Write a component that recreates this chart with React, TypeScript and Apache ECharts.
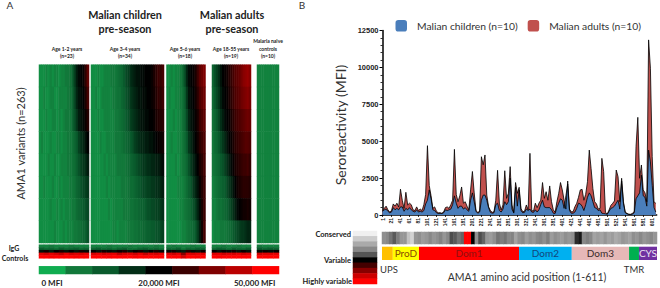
import React, { useEffect, useRef } from "react";
import * as echarts from "echarts";

// ---- Panel A: heatmap values, thousands of MFI (top row first, one column per subject)
const heatAge1to2 = [
  [3,3,3,4,3,4,3,4,4,3,4,4,5,5,6,9,13,17,19,20,21,25,31],
  [3,3,4,3,3,4,4,3,3,4,4,4,4,5,6,8,12,16,18,19,20,23,28],
  [3,3,3,4,3,3,4,4,3,4,3,4,5,5,5,8,11,14,17,18,19,21,24],
  [3,4,3,3,3,4,3,3,4,4,3,4,4,5,5,6,8,10,13,15,16,18,20],
  [3,3,3,3,4,3,3,4,3,3,4,4,4,5,5,6,7,9,11,13,14,15,17],
  [3,3,4,3,3,3,4,3,3,4,3,4,4,4,5,5,6,8,9,11,12,13,14],
  [3,3,3,3,3,4,3,3,4,3,4,3,4,4,4,5,5,7,8,9,10,11,12],
  [3,3,3,3,3,3,3,4,3,3,3,4,3,4,4,4,5,5,6,7,8,9,11],
];
const heatAge3to4 = [
  [3,3,3,4,3,3,4,4,4,5,5,5,6,7,8,10,12,13,15,16,17,18,18,19,19,20,20,20,21,23,25,27,26,28],
  [3,3,4,3,3,4,4,4,4,4,5,5,6,6,8,9,11,12,14,15,16,17,18,18,19,19,20,20,21,22,24,26,25,27],
  [3,3,3,4,3,3,4,4,4,4,4,5,5,6,7,8,10,11,13,14,15,16,17,18,18,19,19,20,20,21,23,24,24,25],
  [3,3,3,3,4,3,3,4,4,4,4,5,5,5,6,7,8,9,10,11,13,14,15,16,16,17,17,18,18,19,20,21,21,22],
  [3,3,3,3,3,3,4,3,4,4,4,4,5,5,5,5,6,7,8,9,10,11,12,13,14,14,15,15,16,16,17,17,18,19],
  [3,3,3,3,3,3,3,4,3,4,4,4,4,4,5,5,5,6,7,7,8,9,10,11,12,12,13,13,14,14,15,15,16,17],
  [3,3,3,3,3,3,3,3,4,3,4,4,4,4,4,5,5,5,6,6,7,7,8,9,9,10,11,11,12,12,13,13,14,15],
  [3,3,3,3,3,3,3,3,3,3,4,4,3,4,4,4,4,5,5,5,6,6,7,7,8,8,9,9,10,10,11,11,12,13],
];
const heatAge5to6 = [
  [3,3,4,3,4,4,5,7,11,16,19,20,21,23,27,31,33,35],
  [3,4,3,3,4,4,5,6,9,14,18,19,20,22,25,29,31,33],
  [3,3,3,4,3,4,4,6,8,12,16,18,19,21,23,27,29,31],
  [3,3,4,3,3,4,4,5,7,10,14,16,18,20,22,25,27,29],
  [3,3,3,3,4,3,4,5,6,8,11,14,16,18,20,23,25,28],
  [3,3,3,3,3,4,4,4,5,7,9,11,14,16,18,21,24,27],
  [3,3,3,3,3,3,4,4,5,6,7,9,11,13,16,19,23,27],
  [3,3,3,3,3,3,3,4,4,5,6,7,8,10,13,17,22,28],
];
const heatAdults = [
  [8,11,13,15,18,20,21,22,24,26,28,30,31,32,34,36,37,38,36],
  [7,10,12,14,17,19,20,21,23,25,27,29,30,31,33,34,35,36,34],
  [6,8,10,12,15,17,19,20,21,23,25,27,28,29,30,31,32,33,32],
  [5,7,8,10,12,14,16,18,20,21,23,25,26,27,28,29,30,30,29],
  [5,6,7,8,10,11,13,15,17,19,21,23,24,25,26,27,27,28,26],
  [4,5,6,7,8,9,10,12,14,16,18,20,22,23,24,25,25,25,24],
  [4,4,5,6,6,7,8,9,11,13,15,17,19,20,21,22,22,23,22],
  [3,4,4,4,5,5,5,6,7,8,10,11,12,13,14,14,15,16,16],
];
const heatNaive = [
  [4,4,4,4,4,4,4,4,4,4],
  [4,4,4,4,4,4,4,4,4,4],
  [4,4,4,4,4,4,4,4,4,4],
  [4,4,4,4,4,4,4,4,4,4],
  [4,4,4,4,4,4,4,4,4,4],
  [4,4,4,4,4,4,4,4,4,4],
  [4,4,4,4,4,4,4,4,4,4],
  [4,4,4,4,4,4,4,4,4,4],
];
const iggAge1to2 = [
  [4,4,5,4,4,4,5,4,4,4],
  [9,7,8,6,9,7,8,9,7,8],
  [18,22,17,20,23,18,20,18,22,19],
  [46,44,47,45,42,47,44,46,45,47],
  [50,50,49,50,50,50,50,49,50,50],
];
const iggAge3to4 = [
  [4,4,4,5,4,4,4,5,4,4,4,4,5,4],
  [8,9,7,8,6,8,9,7,6,8,9,7,8,6],
  [20,18,22,19,18,21,23,18,20,22,18,20,23,19],
  [45,47,44,46,47,42,45,46,44,47,43,46,45,47],
  [50,50,50,49,50,50,50,50,49,50,50,50,50,50],
];
const iggAge5to6 = [
  [4,5,4,4,4,5,4,4],
  [8,7,9,5,8,7,9,8],
  [19,22,18,17,24,19,18,21],
  [46,44,47,36,46,45,47,46],
  [50,50,50,45,50,50,49,50],
];
const iggAdults = [
  [4,4,5,4,4,5,4,4],
  [7,9,8,6,9,8,7,9],
  [20,18,21,19,22,18,21,18],
  [46,47,44,46,45,47,44,46],
  [50,49,50,50,50,50,50,50],
];
const iggNaive = [
  [5,4,4,4],
  [10,8,9,8],
  [19,21,19,20],
  [44,46,46,47],
  [50,50,50,50],
];
const colorScaleSwatches = [0, 5, 10, 15, 20, 27, 35, 42, 50];
const heatColorStops = ["#10ac50", "#12783a", "#095a2c", "#032e17", "#000000", "#2a0000", "#550000", "#7f0000", "#aa0000", "#d40000", "#ff0000"];

// ---- Panel B: seroreactivity in MFI, one value every 4 amino acids from position 1
const adultsMFI = [
  300,450,600,350,200,300,750,600,800,550,
  1750,1000,450,1540,680,800,700,350,300,550,
  300,400,300,700,1400,4700,2000,1300,450,550,
  250,150,150,120,200,500,550,450,700,1000,
  4450,1400,900,1300,1900,800,900,600,350,1700,
  2950,1500,300,180,250,3950,3400,4070,1350,560,
  300,180,220,1000,3030,800,340,680,3000,1130,
  1470,3280,680,180,2200,1470,1880,450,220,250,
  680,350,4180,300,270,800,500,800,1000,2200,
  1130,1580,1000,1970,900,350,180,900,1470,2200,
  1700,1000,400,2300,400,220,220,560,790,1200,
  1700,1740,1000,1400,2260,4400,3160,1800,900,750,
  400,450,3840,2940,180,70,340,650,790,950,
  3050,2600,900,2490,900,200,110,50,50,100,
  250,4630,6620,2490,3390,1700,1500,900,11870,9950,
  3950,900,790,
];
const childrenMFI = [
  250,350,400,250,150,200,500,350,450,350,
  550,550,250,450,350,500,350,250,200,350,
  200,250,200,300,750,1000,1700,1100,350,300,
  150,100,120,100,150,350,300,350,400,700,
  1300,800,450,600,600,400,500,350,250,1000,
  1500,900,250,120,200,1000,1350,1350,1000,500,
  180,120,150,700,800,300,200,400,900,700,
  900,2500,400,130,1900,600,1700,300,150,180,
  400,300,400,200,180,350,200,350,700,1000,
  550,500,500,500,350,120,100,500,800,1100,
  1000,450,1300,2100,300,120,120,200,450,800,
  750,600,300,700,1200,1500,1300,900,500,450,
  300,350,120,100,80,50,250,450,500,600,
  800,1000,400,2300,800,150,80,40,30,60,
  150,1100,1300,1500,2700,1300,1200,600,4400,3600,
  2000,500,200,
];
const aminoAcidPositions = adultsMFI.map((_, i) => 1 + i * 4);
const positionTicks = [1,21,41,61,81,101,121,141,161,181,201,221,241,261,281,301,321,341,361,381,401,421,441,461,481,501,521,541,561,581,601];

// Conservation score per block of 8 amino acids: 0 conserved, 5 variable, 9 highly variable
const conservationScores = [
  2.8,3.0,3.4,3.9,3.2,2.6,2.6,1.3,0.8,2.6,2.8,2.4,2.6,3.0,2.6,2.8,3.1,2.6,3.0,4.1,
  3.9,3.4,3.7,9,9,5,2.8,4.1,3.7,2.6,2.4,2.8,3.4,3.2,3.4,3.0,3.1,2.2,2.8,3.0,
  2.4,2.8,2.6,3.0,3.1,2.8,3.2,2.4,2.8,2.6,2.4,2.8,2.6,2.8,4.5,4.7,3.0,3.2,3.0,2.2,
  2.4,2.2,2.6,2.2,2.4,2.0,2.2,2.6,2.4,2.2,2.8,2.6,3.0,2.6,2.8,3.0,2.6,
];
const conservationLegend = [0, 1, 2, 3, 4, 5, 6, 7, 8, 9];
const conservationStops = ["#f0f0f0", "#cccccc", "#aaaaaa", "#888888", "#555555", "#000000", "#440000", "#880000", "#cc0000", "#ff0000"];

const domainNames = ["", "ProD", "Dom1", "Dom2", "Dom3", "", "CYS"];
const domainStarts = [1, 25, 83, 305, 422, 549, 571];
const domainEnds = [25, 83, 305, 422, 549, 571, 611];
const domainColors = ["#ffc000", "#ffff00", "#ff0000", "#00b0f0", "#e6b8b7", "#00b050", "#7030a0"];
const domainTextColors = ["", "#8a4a00", "#8f1010", "#12457a", "#3a2a2a", "", "#e8e0f0"];

const SERIF_FREE = "Lato, 'Open Sans', sans-serif";
const ARIAL = "'Liberation Sans', Arial, sans-serif";

function label(text: string, x: number, y: number, size: number, opts: any = {}) {
  return {
    type: "text",
    x,
    y,
    rotation: opts.rotation || 0,
    silent: true,
    style: {
      text,
      fontFamily: SERIF_FREE,
      fontSize: size,
      fontWeight: opts.bold ? "bold" : "normal",
      fill: opts.fill || "#333333",
      align: opts.align || "center",
      verticalAlign: "middle",
    },
  };
}

export default function App() {
  const ref = useRef<HTMLDivElement>(null);
  useEffect(() => {
    document.body.style.margin = "0";
    const chart = echarts.init(ref.current!, null, { renderer: "svg" });

    const grids: any[] = [];
    const xAxes: any[] = [];
    const yAxes: any[] = [];
    const series: any[] = [];
    const heatSeries: number[] = [];
    const conservationSeries: number[] = [];

    const addHeat = (matrix: number[][], left: number, top: number, width: number, height: number, bucket: number[]) => {
      const idx = grids.length;
      grids.push({ left, top, width, height });
      xAxes.push({ gridIndex: idx, type: "category", show: false, data: matrix[0].map((_, i) => i) });
      yAxes.push({ gridIndex: idx, type: "category", show: false, inverse: true, data: matrix.map((_, i) => i) });
      const data: number[][] = [];
      matrix.forEach((row, r) => row.forEach((v, c) => data.push([c, r, v])));
      bucket.push(series.length);
      series.push({
        type: "heatmap",
        xAxisIndex: idx,
        yAxisIndex: idx,
        data,
        silent: true,
        itemStyle: { borderWidth: 0 },
        progressive: 0,
      });
    };

    const heatTop = 64.7, heatHeight = 178.3, iggTop = 244.7, iggHeight = 13.6;
    addHeat(heatAge1to2, 39, heatTop, 50, heatHeight, heatSeries);
    addHeat(heatAge3to4, 91, heatTop, 73, heatHeight, heatSeries);
    addHeat(heatAge5to6, 166.5, heatTop, 39, heatHeight, heatSeries);
    addHeat(heatAdults, 212, heatTop, 39, heatHeight, heatSeries);
    addHeat(heatNaive, 257, heatTop, 22, heatHeight, heatSeries);
    addHeat(iggAge1to2, 39, iggTop, 50, iggHeight, heatSeries);
    addHeat(iggAge3to4, 91, iggTop, 73, iggHeight, heatSeries);
    addHeat(iggAge5to6, 166.5, iggTop, 39, iggHeight, heatSeries);
    addHeat(iggAdults, 212, iggTop, 39, iggHeight, heatSeries);
    addHeat(iggNaive, 257, iggTop, 22, iggHeight, heatSeries);
    addHeat([colorScaleSwatches], 39, 266.3, 240, 7.7, heatSeries);
    addHeat([conservationScores], 382, 232, 275, 12, conservationSeries);
    addHeat(conservationLegend.map((v) => [v]), 353, 231, 24, 53, conservationSeries);

    // main spectrum
    const mainIdx = grids.length;
    grids.push({ left: 382.5, top: 30.6, width: 274.2, height: 184.4 });
    xAxes.push({
      gridIndex: mainIdx,
      type: "value",
      min: 1,
      max: 611,
      splitLine: { show: false },
      axisLine: { lineStyle: { color: "#000", width: 1.5 } },
      axisTick: { customValues: positionTicks, length: 2, lineStyle: { color: "#000", width: 0.8 } },
      axisLabel: {
        customValues: positionTicks,
        rotate: 90,
        fontSize: 5,
        fontWeight: "bold",
        fontFamily: ARIAL,
        color: "#222",
        margin: 3,
      },
    });
    yAxes.push({
      gridIndex: mainIdx,
      type: "value",
      min: 0,
      max: 12500,
      interval: 2500,
      splitLine: { show: false },
      axisLine: { show: true, lineStyle: { color: "#000", width: 1.5 } },
      axisTick: { show: true, length: 3, lineStyle: { color: "#000", width: 1 } },
      minorTick: { show: true, splitNumber: 5, length: 2, lineStyle: { color: "#000", width: 0.8 } },
      axisLabel: { fontSize: 7.5, fontWeight: "bold", fontFamily: ARIAL, color: "#222", margin: 4, formatter: (v: number) => String(v) },
    });
    const areaSeries = (name: string, values: number[], color: string) => ({
      name,
      type: "line",
      xAxisIndex: mainIdx,
      yAxisIndex: mainIdx,
      data: values.map((v, i) => [aminoAcidPositions[i], v]),
      showSymbol: false,
      silent: true,
      itemStyle: { color },
      lineStyle: { color: "#000", width: 0.8 },
      areaStyle: { color, opacity: 1 },
    });
    series.push(areaSeries("Malian adults (n=10)", adultsMFI, "#c0504d"));
    series.push(areaSeries("Malian children (n=10)", childrenMFI, "#4a7ebb"));

    // domain bar
    const domIdx = grids.length;
    grids.push({ left: 382, top: 246.7, width: 275, height: 13.3 });
    xAxes.push({ gridIndex: domIdx, type: "value", show: false, min: 1, max: 611 });
    yAxes.push({ gridIndex: domIdx, type: "value", show: false, min: 0, max: 1 });
    series.push({
      type: "custom",
      xAxisIndex: domIdx,
      yAxisIndex: domIdx,
      silent: true,
      clip: false,
      data: domainStarts.map((s, i) => [s, domainEnds[i], i]),
      renderItem: (_p: any, api: any) => {
        const a = api.coord([api.value(0), 1]);
        const b = api.coord([api.value(1), 0]);
        const i = api.value(2);
        const children: any[] = [
          { type: "rect", shape: { x: a[0], y: a[1], width: b[0] - a[0], height: b[1] - a[1] }, style: { fill: domainColors[i] } },
        ];
        if (domainNames[i]) {
          children.push({
            type: "text",
            x: (a[0] + b[0]) / 2,
            y: (a[1] + b[1]) / 2,
            style: {
              text: domainNames[i],
              fontFamily: SERIF_FREE,
              fontSize: 10,
              fill: domainTextColors[i],
              align: "center",
              verticalAlign: "middle",
            },
          });
        }
        return { type: "group", children };
      },
    });

    const graphics = [
      label("A", 10, 5, 10),
      label("B", 302, 5, 10),
      label("Malian children", 125, 14.5, 10.8, { bold: true, fill: "#222" }),
      label("pre-season", 125, 28.5, 10.8, { bold: true, fill: "#222" }),
      label("Malian adults", 232, 14.5, 10.8, { bold: true, fill: "#222" }),
      label("pre-season", 232, 28.5, 10.8, { bold: true, fill: "#222" }),
      label("Age 1-2 years", 67, 48.7, 5, { bold: true, fill: "#222" }),
      label("(n=23)", 67, 56, 5, { bold: true, fill: "#222" }),
      label("Age 3-4 years", 125, 48.7, 5, { bold: true, fill: "#222" }),
      label("(n=34)", 125, 56, 5, { bold: true, fill: "#222" }),
      label("Age 5-6 years", 185, 48.7, 5, { bold: true, fill: "#222" }),
      label("(n=18)", 185, 56, 5, { bold: true, fill: "#222" }),
      label("Age 18-55 years", 231, 48.7, 5, { bold: true, fill: "#222" }),
      label("(n=19)", 231, 56, 5, { bold: true, fill: "#222" }),
      label("Malaria naive", 268, 41, 5, { bold: true, fill: "#222" }),
      label("controls", 268, 48.7, 5, { bold: true, fill: "#222" }),
      label("(n=10)", 268, 56, 5, { bold: true, fill: "#222" }),
      label("AMA1 variants (n=263)", 20, 143.5, 11, { rotation: Math.PI / 2 }),
      label("Seroreactivity (MFI)", 340, 125, 14, { rotation: Math.PI / 2 }),
      label("IgG", 14, 247.7, 7, { bold: true, fill: "#222" }),
      label("Controls", 15, 258, 7, { bold: true, fill: "#222" }),
      label("0 MFI", 52, 283, 8, { bold: true, fill: "#222" }),
      label("20,000 MFI", 159, 283, 8, { bold: true, fill: "#222" }),
      label("50,000 MFI", 254.7, 283, 8, { bold: true, fill: "#222" }),
      label("Conserved", 351, 234, 7.5, { bold: true, fill: "#222", align: "right" }),
      label("Variable", 351, 260, 7.5, { bold: true, fill: "#222", align: "right" }),
      label("Highly variable", 352, 281, 7.5, { bold: true, fill: "#222", align: "right" }),
      label("UPS", 389, 269, 9.5),
      label("TMR", 634, 269, 9.5),
      label("AMA1 amino acid position (1-611)", 527, 277, 10.5),
    ];

    chart.setOption({
      animation: false,
      backgroundColor: "#ffffff",
      grid: grids,
      xAxis: xAxes,
      yAxis: yAxes,
      series,
      visualMap: [
        { type: "continuous", show: false, seriesIndex: heatSeries, dimension: 2, min: 0, max: 50, inRange: { color: heatColorStops } },
        { type: "continuous", show: false, seriesIndex: conservationSeries, dimension: 2, min: 0, max: 9, inRange: { color: conservationStops } },
      ],
      legend: {
        left: 395.5,
        top: 20,
        itemWidth: 11.5,
        itemHeight: 11.5,
        itemGap: 10,
        padding: 0,
        icon: "roundRect",
        data: ["Malian children (n=10)", "Malian adults (n=10)"],
        textStyle: { fontFamily: SERIF_FREE, fontSize: 10.3, color: "#333", padding: [0, 0, 0, 5] },
      },
      graphic: graphics,
    });
    return () => chart.dispose();
  }, []);
  return <div ref={ref} style={{ width: 660, height: 288 }} />;
}
